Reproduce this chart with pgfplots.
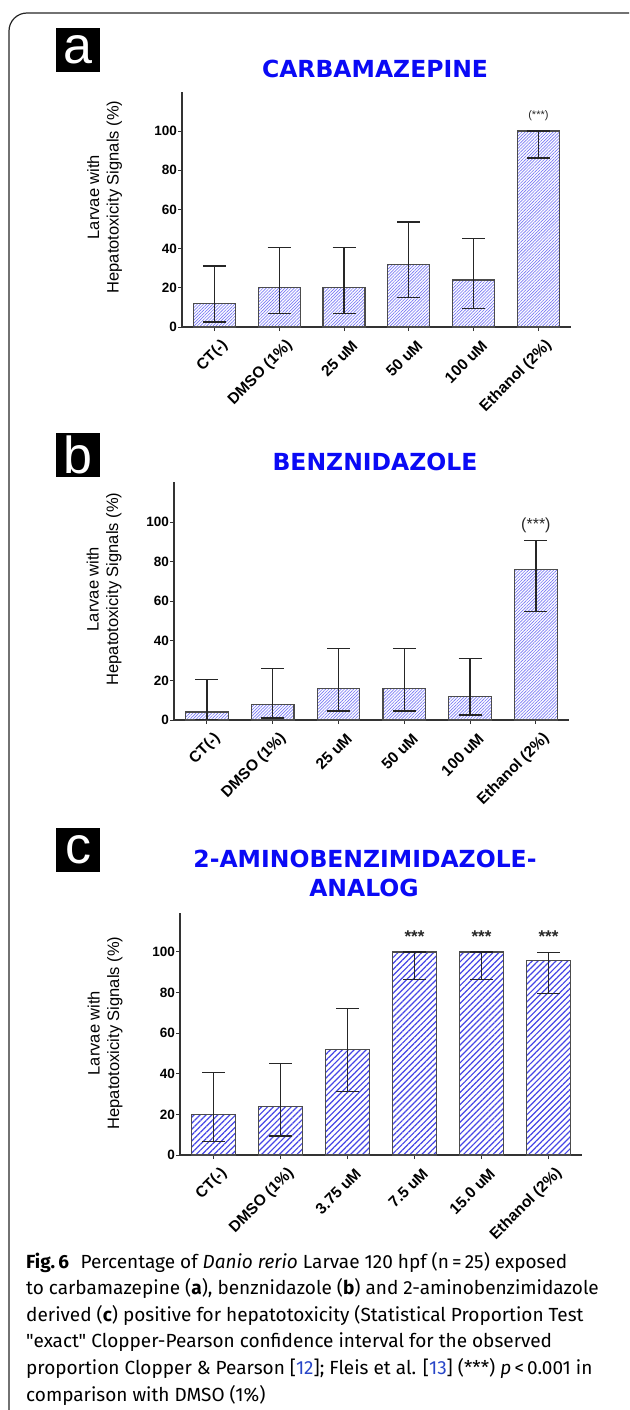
\documentclass[border=0pt]{standalone}
\usepackage{fontspec}
\setmainfont{Liberation Sans}
\newfontfamily\titlefont{DejaVu Sans}
\newfontfamily\capfont{Fira Sans}
\usepackage{pgfplots}
\pgfplotsset{compat=1.18}
\usepackage{pgfplotstable}
\usetikzlibrary{patterns.meta}

\definecolor{titleblue}{RGB}{10,10,245}
\definecolor{hatchfine}{RGB}{120,120,245}
\definecolor{hatchwide}{RGB}{70,70,230}
\definecolor{citeblue}{RGB}{40,70,200}

% x  y(%)  upper CI  lower CI (Clopper-Pearson, n=25)
\pgfplotstableread{
x y ep em
0 12 19.2 9.5
1 20 20.7 13.2
2 20 20.7 13.2
3 32 21.5 17.1
4 24 21.1 14.6
5 100 0 13.7
}\carba
\pgfplotstableread{
x y ep em
0 4 16.4 3.9
1 8 18.0 7.0
2 16 20.1 11.5
3 16 20.1 11.5
4 12 19.2 9.5
5 76 14.6 21.1
}\benz
\pgfplotstableread{
x y ep em
0 20 20.7 13.2
1 24 21.1 14.6
2 52 20.2 20.7
3 100 0 13.7
4 100 0 13.7
5 96 3.9 16.4
}\amino

\pgfplotsset{
  hepbar/.style={
    scale only axis, ybar, bar width=0.65,
    xmin=-0.5, xmax=5.5, ymin=0,
    ytick={0,20,...,100}, xtick={0,...,5},
    axis x line*=bottom, axis y line*=left,
    axis line style={-, line width=1.2pt, black!80},
    every tick/.style={line width=1pt, black!80},
    major tick length=4pt, tick align=outside,
    /pgf/number format/assume math mode=true,
    yticklabel style={font=\fontsize{13.5}{15}\selectfont\bfseries, inner sep=1pt},
    xticklabel style={font=\fontsize{15.5}{17}\selectfont\bfseries, inner sep=0pt,
      xshift=11pt, yshift=-12pt, rotate=45, anchor=east},
    clip=false,
  },
  errs/.style={
    error bars/.cd, y dir=both, y explicit,
    error bar style={line width=1.3pt, black!85},
    error mark options={rotate=90, line width=1.3pt, black!85, mark size=11.5pt},
  },
}

\begin{document}
\begin{tikzpicture}
\path[use as bounding box] (0,0) rectangle (629pt,-1410pt);
\clip (0,0) rectangle (629pt,-1410pt);

% frame
\draw[line width=1.2pt, black!85, rounded corners=18pt] (9pt,-1430pt) -- (9pt,-13pt) -- (660pt,-13pt);

% ---------- panel a
\node[fill=black, minimum width=44pt, minimum height=44pt, inner sep=0pt, text=white,
  font=\fontsize{52}{52}\selectfont] at (78pt,-50pt) {a};
\node[font=\titlefont\fontsize{23.5}{28}\selectfont\bfseries, text=titleblue] at (375pt,-69pt) {CARBAMAZEPINE};
\node[rotate=90, align=center, font=\fontsize{16.5}{19.5}\selectfont] at (104.5pt,-197pt)
  {Larvae with\\Hepatotoxicity Signals (\%)};
\begin{axis}[hepbar, at={(182pt,-327pt)}, anchor=south west,
  width=388.8pt, height=235.2pt, ymax=120,
  xticklabels={CT(-), DMSO (1\%), 25 uM, 50 uM, 100 uM, Ethanol (2\%)}]
\addplot[draw=black!70, line width=1.2pt, fill=white,
  postaction={pattern={Lines[angle=45,distance=2.2pt,line width=0.65pt]}, pattern color=hatchfine},
  errs] table[x=x, y=y, y error plus=ep, y error minus=em] {\carba};
\node[font=\fontsize{11}{12}\selectfont, text=black!85] at (axis cs:5,108) {(***)};
\end{axis}

% ---------- panel b
\node[fill=black, minimum width=44pt, minimum height=44pt, inner sep=0pt, text=white,
  font=\fontsize{52}{52}\selectfont] at (78pt,-455pt) {b};
\node[font=\titlefont\fontsize{23.5}{28}\selectfont\bfseries, text=titleblue] at (375pt,-462pt) {BENZNIDAZOLE};
\node[rotate=90, align=center, font=\fontsize{16.5}{19.5}\selectfont] at (104pt,-589pt)
  {Larvae with\\Hepatotoxicity Signals (\%)};
\begin{axis}[hepbar, at={(174pt,-720pt)}, anchor=south west,
  width=394.8pt, height=237.6pt, ymax=120,
  xticklabels={CT(-), DMSO (1\%), 25 uM, 50 uM, 100 uM, Ethanol (2\%)}]
\addplot[draw=black!70, line width=1.2pt, fill=white,
  postaction={pattern={Lines[angle=45,distance=2.2pt,line width=0.65pt]}, pattern color=hatchfine},
  errs] table[x=x, y=y, y error plus=ep, y error minus=em] {\benz};
\node[font=\fontsize{16}{18}\selectfont, text=black!85] at (axis cs:5,98.5) {(***)};
\end{axis}

% ---------- panel c
\node[fill=black, minimum width=44pt, minimum height=44pt, inner sep=0pt, text=white,
  font=\fontsize{52}{52}\selectfont] at (78pt,-849.5pt) {c};
\node[font=\titlefont\fontsize{23.5}{28}\selectfont\bfseries, text=titleblue] at (365pt,-859pt) {2-AMINOBENZIMIDAZOLE-};
\node[font=\titlefont\fontsize{23.5}{28}\selectfont\bfseries, text=titleblue] at (364pt,-888pt) {ANALOG};
\node[rotate=90, align=center, font=\fontsize{16.5}{19.5}\selectfont] at (105pt,-1033pt)
  {Larvae with\\Hepatotoxicity Signals (\%)};
\begin{axis}[hepbar, at={(180pt,-1155pt)}, anchor=south west,
  width=402pt, height=241.6pt, ymax=119,
  xticklabels={CT(-), DMSO (1\%), 3.75 uM, 7.5 uM, 15.0 uM, Ethanol (2\%)}]
\addplot[draw=black!70, line width=1.2pt, fill=white,
  postaction={pattern={Lines[angle=45,distance=4.2pt,line width=1.2pt]}, pattern color=hatchwide},
  errs] table[x=x, y=y, y error plus=ep, y error minus=em] {\amino};
\node[font=\fontsize{17}{18}\selectfont\bfseries, text=black!85] at (axis cs:3,107.4) {***};
\node[font=\fontsize{17}{18}\selectfont\bfseries, text=black!85] at (axis cs:4,107.4) {***};
\node[font=\fontsize{17}{18}\selectfont\bfseries, text=black!85] at (axis cs:5,107.4) {***};
\end{axis}

% ---------- caption
\begin{scope}[every node/.style={anchor=base west, inner sep=0pt, font=\capfont\fontsize{19}{26}\selectfont}]
\node at (26pt,-1268pt) {\textbf{Fig.\,6}\hspace{0.6em}Percentage of \textit{Danio rerio} Larvae 120 hpf (n\,=\,25) exposed};
\node at (26pt,-1294.6pt) {to carbamazepine (\textbf{a}), benznidazole (\textbf{b}) and 2-aminobenzimidazole};
\node at (26pt,-1321.2pt) {derived (\textbf{c}) positive for hepatotoxicity (Statistical Proportion Test};
\node at (26pt,-1347.8pt) {"exact" Clopper-Pearson confidence interval for the observed};
\node at (26pt,-1374.4pt) {proportion Clopper \& Pearson [{\color{citeblue}12}]; Fleis et al. [{\color{citeblue}13}] (***) \textit{p}\,<\,0.001 in};
\node at (26pt,-1401pt) {comparison with DMSO (1\%)};
\end{scope}
\end{tikzpicture}
\end{document}
